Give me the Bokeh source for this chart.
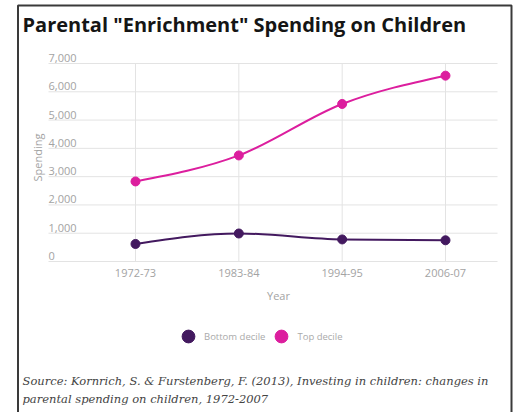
import math
import numpy as np
from bokeh.plotting import figure
from bokeh.models import Range1d, Label, PolyAnnotation, Legend, LegendItem, Grid
from bokeh.core.properties import value
from bokeh.embed import file_html
from bokeh.resources import INLINE

# ---------------- data ----------------
years = ["1972-73", "1983-84", "1994-95", "2006-07"]
bottom_decile = [620, 990, 780, 750]
top_decile = [2830, 3750, 5570, 6570]
y_ticks = [0, 1000, 2000, 3000, 4000, 5000, 6000, 7000]
y_tick_labels = ["0", "1,000", "2,000", "3,000", "4,000", "5,000", "6,000", "7,000"]
series_names = ["Bottom decile", "Top decile"]
x_title = "Year"
y_title = "Spending"
title_text = 'Parental "Enrichment" Spending on Children'
source_lines = [
    "Source: Kornrich, S. & Furstenberg, F. (2013), Investing in children: changes in",
    "parental spending on children, 1972-2007",
]

# ---------------- layout / styles ----------------
W, H = 515, 412
X0_PX = 135.0          # canvas x of first category
PX_PER_IDX = 103.33    # canvas px between categories
Y0_PX = 261.0          # canvas y (from top) of value 0
PX_PER_UNIT = 198.0 / 7000.0
GRID_LEFT_PX, GRID_RIGHT_PX = 48.0, 497.0

C_TOP = "#dc1e9e"
C_BOT = "#43195f"
GRID = "#e3e3e3"
LABEL = "#a3a3a3"
FONT = "Open Sans"


def px_to_x(px):
    return (px - X0_PX) / PX_PER_IDX


def monotone_bezier(xs, ys):
    """Monotone cubic (d3 curveMonotoneX style) as bezier segments."""
    xs = np.asarray(xs, float)
    ys = np.asarray(ys, float)
    n = len(xs)
    h = np.diff(xs)
    s = np.diff(ys) / h
    t = np.zeros(n)
    for i in range(1, n - 1):
        p_ = (s[i - 1] * h[i] + s[i] * h[i - 1]) / (h[i - 1] + h[i])
        t[i] = (np.sign(s[i - 1]) + np.sign(s[i])) * min(abs(s[i - 1]), abs(s[i]), 0.5 * abs(p_))
    t[0] = (3 * s[0] - t[1]) / 2
    t[-1] = (3 * s[-1] - t[-2]) / 2
    x0 = xs[:-1]; x1 = xs[1:]
    y0 = ys[:-1]; y1 = ys[1:]
    return dict(x0=x0, y0=y0, x1=x1, y1=y1,
                cx0=x0 + h / 3, cy0=y0 + t[:-1] * h / 3,
                cx1=x1 - h / 3, cy1=y1 - t[1:] * h / 3)


idx = list(range(len(years)))

p = figure(
    width=W, height=H,
    x_range=Range1d(px_to_x(0), px_to_x(W)),
    y_range=Range1d((Y0_PX - H) / PX_PER_UNIT, Y0_PX / PX_PER_UNIT),
    x_axis_location=None, y_axis_location=None,
    output_backend="svg", toolbar_location=None, min_border=0,
)
p.outline_line_color = None
p.background_fill_color = "white"
p.border_fill_color = "white"
for r in p.renderers + p.center:
    if isinstance(r, Grid):
        r.visible = False

gl, gr = px_to_x(GRID_LEFT_PX), px_to_x(GRID_RIGHT_PX)

# horizontal grid lines (incl. the baseline)
p.segment(x0=[gl] * len(y_ticks), y0=y_ticks, x1=[gr] * len(y_ticks), y1=y_ticks,
          line_color=GRID, line_width=1)
# vertical grid lines at categories
p.segment(x0=idx, y0=[min(y_ticks)] * len(idx), x1=idx, y1=[max(y_ticks)] * len(idx),
          line_color=GRID, line_width=1)

# y tick labels above gridlines
p.text(x=[gl] * len(y_ticks), y=y_ticks, text=y_tick_labels,
       text_align="left", text_baseline="bottom", y_offset=-1.5,
       text_font=value(FONT), text_font_size="11px", text_color=LABEL)
# x tick labels
p.text(x=idx, y=[min(y_ticks)] * len(idx), text=years,
       text_align="center", text_baseline="top", y_offset=7,
       text_font=value(FONT), text_font_size="11px", text_color=LABEL)

# series
p.bezier(line_color=C_BOT, line_width=2, **monotone_bezier(idx, bottom_decile))
p.bezier(line_color=C_TOP, line_width=2, **monotone_bezier(idx, top_decile))
r_bot = p.scatter(idx, bottom_decile, size=9, fill_color=C_BOT, line_color=C_BOT)
r_top = p.scatter(idx, top_decile, size=9, fill_color=C_TOP, line_color=C_TOP)

legend = Legend(
    items=[LegendItem(label=series_names[0], renderers=[r_bot]),
           LegendItem(label=series_names[1], renderers=[r_top])],
    orientation="horizontal", location=(172, H - 352),
    glyph_width=32, glyph_height=32, label_standoff=0, spacing=0,
    padding=0, margin=0, border_line_color=None, background_fill_alpha=0,
    label_text_font=FONT, label_text_font_size="9.5px", label_text_color="#aaaaaa",
)
p.add_layout(legend)

# axis titles
p.add_layout(Label(x=278, y=H - 295, x_units="screen", y_units="screen", text=x_title,
                   text_font=FONT, text_font_size="11px", text_color=LABEL,
                   text_align="center", text_baseline="middle"))
p.add_layout(Label(x=37, y=H - 157, x_units="screen", y_units="screen", text=y_title,
                   angle=math.pi / 2, text_font=FONT, text_font_size="11px",
                   text_color=LABEL, text_align="center", text_baseline="middle"))

# title, source, frame
p.add_layout(Label(x=22, y=H - 23.5, x_units="screen", y_units="screen", text=title_text,
                   text_font=FONT, text_font_style="bold", text_font_size="20px",
                   text_color="#151515", text_baseline="alphabetic"))
for line, yy in zip(source_lines, [380.5, 398]):
    p.add_layout(Label(x=22, y=H - yy, x_units="screen", y_units="screen", text=line,
                       text_font="DejaVu Serif", text_font_style="italic",
                       text_font_size="11.5px", text_color="#444444",
                       text_baseline="alphabetic"))
p.add_layout(PolyAnnotation(xs=[17.5, 17.5, 511, 511], ys=[-10, H - 5, H - 5, -10],
                            xs_units="screen", ys_units="screen",
                            fill_alpha=0, line_color="#3a3a3a", line_alpha=1.0,
                            line_width=2))

open("out.html", "w").write(file_html(p, INLINE))
